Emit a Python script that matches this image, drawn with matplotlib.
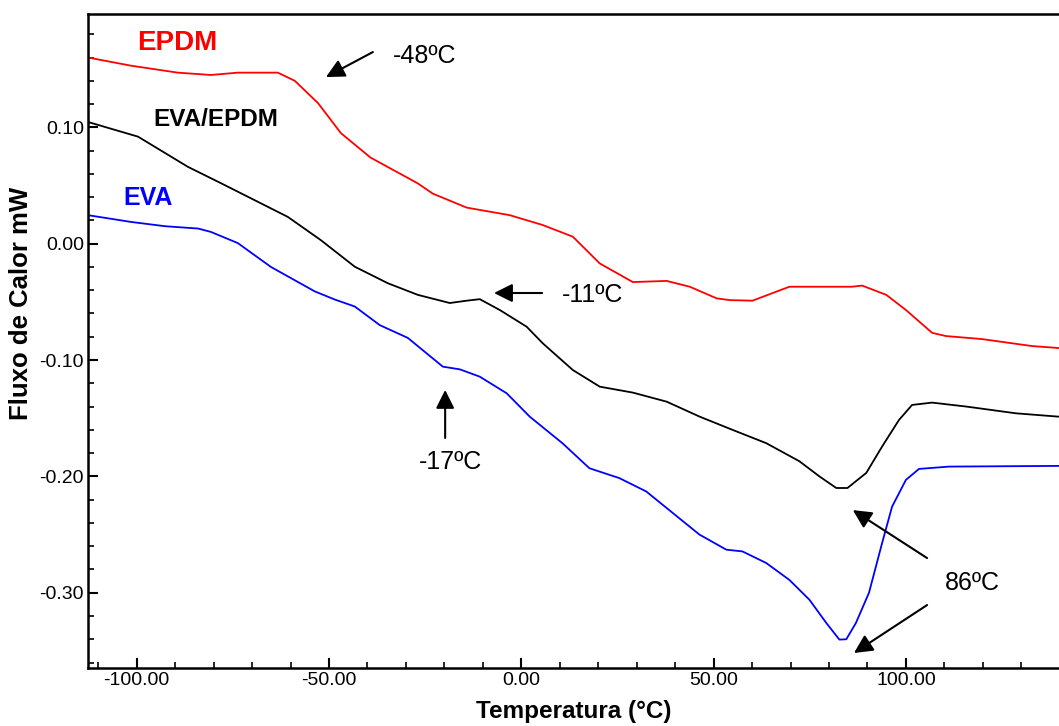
import matplotlib
matplotlib.use('Agg')
from matplotlib import pyplot as plt
from matplotlib.ticker import MultipleLocator, FormatStrFormatter

plt.rcParams['font.family'] = ['Liberation Sans', 'DejaVu Sans']
plt.rcParams['axes.unicode_minus'] = False

# curva EPDM
epdm_t = [-112.66, -101.5, -89.3, -80.7, -73.7, -63.3, -58.9, -52.9, -46.9, -39.2, -27, -23,
          -14.2, -3, 5.6, 13.4, 20.4, 29, 37.8, 43.8, 50.8, 54.2, 60.1, 69.7, 86, 88.6,
          94.9, 100, 106.8, 110.4, 119.8, 132.8, 139.8]
epdm_y = [0.160, 0.153, 0.147, 0.145, 0.147, 0.147, 0.140, 0.121, 0.095, 0.074, 0.052, 0.043,
          0.031, 0.0245, 0.016, 0.006, -0.017, -0.033, -0.032, -0.037, -0.047, -0.0485, -0.049,
          -0.037, -0.037, -0.036, -0.044, -0.057, -0.0766, -0.0794, -0.082, -0.088, -0.0897]

# curva EVA/EPDM
mix_t = [-112.66, -99.66, -86.66, -78.1, -60.7, -52.1, -43.3, -34.7, -26.9, -18.6, -14.2,
         -10.8, -5.6, 1.4, 5.6, 13.4, 20.4, 29, 37.8, 46.4, 54.9, 63.7, 72.3, 77.5, 81.9,
         84.8, 89.7, 93.8, 98.2, 101.6, 106.8, 115.7, 128.6, 139.8]
mix_y = [0.1046, 0.092, 0.066, 0.052, 0.023, 0.003, -0.0198, -0.034, -0.044, -0.051, -0.049,
         -0.0477, -0.057, -0.0714, -0.0857, -0.1086, -0.1229, -0.128, -0.1358, -0.1487, -0.160,
         -0.1715, -0.187, -0.200, -0.210, -0.210, -0.197, -0.1744, -0.1515, -0.1386, -0.1366,
         -0.140, -0.1458, -0.1487]

# curva EVA
eva_t = [-112.66, -101.5, -92.6, -84, -80.7, -73.7, -65.1, -53.7, -48.5, -43.3, -36.8, -29.5,
         -20.4, -16, -10.8, -3.8, 2.2, 10.7, 17.7, 25.5, 32.5, 35.1, 46.3, 53.3, 57.5, 63.7,
         69.7, 74.9, 79.3, 82.7, 84.5, 87, 90.4, 93.8, 96.4, 100, 103.4, 111.2, 139.8]
eva_y = [0.0245, 0.0187, 0.015, 0.013, 0.0101, 0.0005, -0.020, -0.041, -0.048, -0.054, -0.070,
         -0.081, -0.1057, -0.108, -0.1143, -0.1286, -0.1487, -0.1715, -0.193, -0.2015, -0.213,
         -0.220, -0.250, -0.263, -0.2645, -0.2745, -0.289, -0.306, -0.326, -0.3403, -0.340,
         -0.326, -0.300, -0.2574, -0.226, -0.203, -0.1936, -0.1916, -0.191]

fig = plt.figure(figsize=(10.59, 7.26), dpi=100)
ax = fig.add_axes([0.0831, 0.0799, 0.9169, 0.9008])

ax.plot(epdm_t, epdm_y, color='#ff0000', lw=1.3)
ax.plot(mix_t, mix_y, color='black', lw=1.3)
ax.plot(eva_t, eva_y, color='#0000ff', lw=1.3)

ax.set_xlim(-112.66, 139.8)
ax.set_ylim(-0.3647, 0.1974)

# eixos
ax.xaxis.set_major_locator(MultipleLocator(50))
ax.xaxis.set_minor_locator(MultipleLocator(10))
ax.yaxis.set_major_locator(MultipleLocator(0.1))
ax.yaxis.set_minor_locator(MultipleLocator(0.02))
ax.xaxis.set_major_formatter(FormatStrFormatter('%.2f'))
ax.yaxis.set_major_formatter(FormatStrFormatter('%.2f'))
ax.tick_params(which='major', direction='in', length=7, width=1.5, labelsize=14, pad=3)
ax.tick_params(which='minor', direction='in', length=4, width=1.2)
ax.spines['right'].set_visible(False)
for s in ['left', 'bottom', 'top']:
    ax.spines[s].set_linewidth(1.8)

ax.set_xlabel('Temperatura (°C)', fontsize=17.5, fontweight='bold')
ax.set_ylabel('Fluxo de Calor mW', fontsize=18.5, fontweight='bold')
ax.xaxis.set_label_coords(0.5, -0.049)
ax.yaxis.set_label_coords(-0.057, 0.558)

# nomes das curvas
ax.text(-89.5, 0.1725, 'EPDM', color='#ff0000', fontsize=20, fontweight='bold', ha='center', va='center')
ax.text(-79.4, 0.1071, 'EVA/EPDM', color='black', fontsize=17.5, fontweight='bold', ha='center', va='center')
ax.text(-97.1, 0.0392, 'EVA', color='#0000ff', fontsize=18, fontweight='bold', ha='center', va='center')

# setas
arrow = dict(arrowstyle='-|>', color='black', lw=1.5, mutation_scale=28, shrinkA=0, shrinkB=0)
ax.annotate('', xy=(-50.8, 0.1432), xytext=(-38.6, 0.1647), arrowprops=arrow)
ax.text(-33.4, 0.1613, '-48ºC', fontsize=18, ha='left', va='center')
ax.annotate('', xy=(-7.1, -0.0424), xytext=(5.4, -0.0424), arrowprops=arrow)
ax.text(10.6, -0.0441, '-11ºC', fontsize=18, ha='left', va='center')
ax.annotate('', xy=(-19.8, -0.1257), xytext=(-19.8, -0.167), arrowprops=arrow)
ax.text(-18.5, -0.1877, '-17ºC', fontsize=18, ha='center', va='center')
ax.annotate('', xy=(86.2, -0.2290), xytext=(105.5, -0.2702), arrowprops=arrow)
ax.annotate('', xy=(86.5, -0.3518), xytext=(105.5, -0.3106), arrowprops=arrow)
ax.text(110.1, -0.2917, '86ºC', fontsize=18, ha='left', va='center')

plt.savefig('out.png', dpi=100)
